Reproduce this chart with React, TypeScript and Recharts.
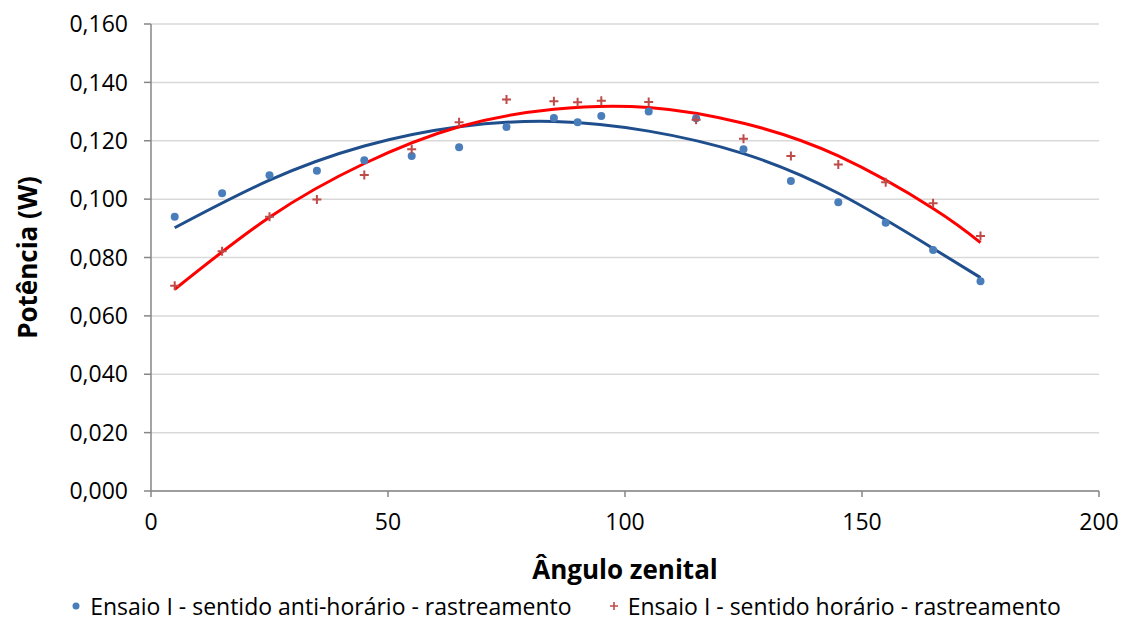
import { ComposedChart, Scatter, Line, XAxis, YAxis, CartesianGrid, Legend } from "recharts";

const angles = [5, 15, 25, 35, 45, 55, 65, 75, 85, 90, 95, 105, 115, 125, 135, 145, 155, 165, 175];
const antiHorario = [
  0.094, 0.102, 0.1082, 0.1097, 0.1133, 0.1148, 0.1178, 0.1247, 0.1278, 0.1263,
  0.1285, 0.13, 0.1277, 0.1171, 0.1062, 0.0989, 0.0919, 0.0826, 0.0719,
];
const horario = [
  0.0703, 0.0821, 0.094, 0.0999, 0.1083, 0.1171, 0.1263, 0.1341, 0.1335, 0.1332,
  0.1337, 0.1333, 0.1272, 0.1207, 0.1148, 0.1119, 0.1058, 0.0986, 0.0874,
];

// trendline values
const trendAngles = [5, 25, 45, 65, 85, 105, 125, 145, 165, 175];
const trendAnti = [0.0902, 0.1065, 0.1182, 0.1248, 0.1266, 0.1233, 0.1156, 0.102, 0.0831, 0.0731];
const trendHor = [0.0691, 0.0938, 0.1122, 0.1248, 0.1308, 0.1314, 0.126, 0.1148, 0.0968, 0.0851];

const yTicks = [0, 0.02, 0.04, 0.06, 0.08, 0.1, 0.12, 0.14, 0.16];
const xTicks = [0, 50, 100, 150, 200];

const blue = "#4a7ebb";
const red = "#be4b48";
const font = "'Open Sans', sans-serif";

const antiData = angles.map((x, i) => ({ x, y: antiHorario[i] }));
const horData = angles.map((x, i) => ({ x, y: horario[i] }));
const antiTrend = trendAngles.map((x, i) => ({ x, y: trendAnti[i] }));
const horTrend = trendAngles.map((x, i) => ({ x, y: trendHor[i] }));

const Dot = (props: any) => <circle cx={props.cx} cy={props.cy} r={4} fill={blue} />;
const Plus = (props: any) => (
  <path
    d={`M${props.cx - 4.5},${props.cy}H${props.cx + 4.5}M${props.cx},${props.cy - 4.5}V${props.cy + 4.5}`}
    stroke={red}
    strokeWidth={2}
  />
);

const LegendBox = () => (
  <div style={{ display: "flex", justifyContent: "center", fontFamily: font, fontSize: 23, lineHeight: "26px", color: "#000", height: 30, alignItems: "center", paddingLeft: 30 }}>
    <span style={{ display: "flex", alignItems: "center", marginRight: 34 }}>
      <svg width={16} height={16} style={{ marginRight: 6 }}>
        <circle cx={8} cy={8} r={3.5} fill={blue} />
      </svg>
      Ensaio I - sentido anti-horário - rastreamento
    </span>
    <span style={{ display: "flex", alignItems: "center" }}>
      <svg width={16} height={16} style={{ marginRight: 6 }}>
        <path d="M4,8H12M8,4V12" stroke={red} strokeWidth={1.6} />
      </svg>
      Ensaio I - sentido horário - rastreamento
    </span>
  </div>
);

export default function App() {
  return (
    <div style={{ position: "absolute", left: 0, top: 0, background: "#fff" }}>
      <ComposedChart width={1121} height={623} margin={{ top: 24, right: 22, bottom: 2, left: 0 }}>
        <CartesianGrid horizontal vertical={false} stroke="#d9d9d9" strokeWidth={1.5} />
        <XAxis
          type="number"
          dataKey="x"
          domain={[0, 200]}
          ticks={xTicks}
          height={100}
          tickSize={6}
          tickMargin={17}
          stroke="#868686"
          strokeWidth={1.5}
          tick={{ fill: "#000", fontSize: 23, fontFamily: font }}
          label={{ value: "Ângulo zenital", position: "insideBottom", offset: 12, fill: "#000", fontSize: 26, fontWeight: 700, fontFamily: font }}
        />
        <YAxis
          type="number"
          domain={[0, 0.16]}
          ticks={yTicks}
          width={151}
          tickSize={7}
          tickMargin={16}
          stroke="#868686"
          strokeWidth={1.5}
          tickFormatter={(v: number) => v.toFixed(3).replace(".", ",")}
          tick={{ fill: "#000", fontSize: 23, fontFamily: font }}
          label={{ value: "Potência (W)", angle: -90, position: "insideLeft", offset: 28, fill: "#000", fontSize: 26, fontWeight: 700, fontFamily: font, style: { textAnchor: "middle" } }}
        />
        <Legend verticalAlign="bottom" height={30} content={() => <LegendBox />} />
        <Line data={antiTrend} dataKey="y" type="natural" stroke="#1f4e8c" strokeWidth={3} dot={false} isAnimationActive={false} legendType="none" />
        <Line data={horTrend} dataKey="y" type="natural" stroke="#ff0000" strokeWidth={3} dot={false} isAnimationActive={false} legendType="none" />
        <Scatter data={antiData} dataKey="y" shape={Dot} isAnimationActive={false} />
        <Scatter data={horData} dataKey="y" shape={Plus} isAnimationActive={false} />
      </ComposedChart>
    </div>
  );
}
